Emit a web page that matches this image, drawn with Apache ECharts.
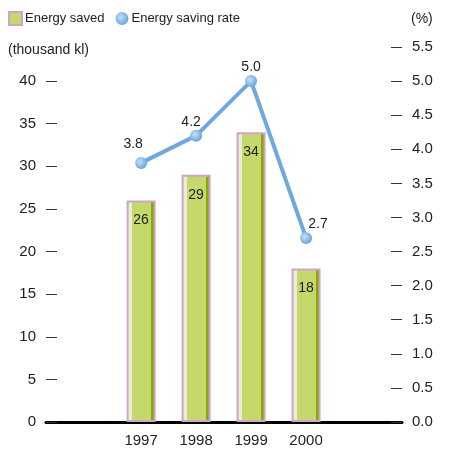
<!DOCTYPE html>
<html>
<head>
<meta charset="utf-8">
<script src="https://cdn.jsdelivr.net/npm/echarts@6/dist/echarts.min.js"></script>
<style>
  html, body { margin: 0; padding: 0; background: #fff; }
  #chart { width: 449px; height: 455px; }
</style>
</head>
<body>
<div id="chart"></div>
<script>
// Fiscal years shown on the horizontal axis
const years = [1997, 1998, 1999, 2000];
// Energy saved, thousand kl
const energySaved = [26, 29, 34, 18];
// Energy saving rate, %
const savingRate = [3.8, 4.2, 5.0, 2.7];
// Tick values of the two vertical axes
const leftTicks = [0, 5, 10, 15, 20, 25, 30, 35, 40];
const rightTicks = [0, 0.5, 1, 1.5, 2, 2.5, 3, 3.5, 4, 4.5, 5, 5.5];
// Nudges for the rate labels so they clear the line
const rateLabelOffsets = [[-8, 2], [-5, 8], [0, 7], [12, 7]];

const FONT = 'Liberation Sans';
const TEXT = '#222';

const chart = echarts.init(document.getElementById('chart'), null, { renderer: 'canvas' });

const barFill = new echarts.graphic.LinearGradient(0, 0, 1, 0, [
  { offset: 0, color: '#ebeed0' },
  { offset: 0.19, color: '#ebeed0' },
  { offset: 0.19, color: '#c5d86c' },
  { offset: 0.85, color: '#c5d86c' },
  { offset: 0.85, color: '#8aa800' },
  { offset: 1, color: '#8aa800' }
]);

const dotFill = new echarts.graphic.RadialGradient(0.4, 0.4, 0.6, [
  { offset: 0, color: '#c6e0f8' },
  { offset: 1, color: '#6aa6dc' }
]);

chart.setOption({
  animation: false,
  textStyle: { fontFamily: FONT },
  grid: { left: 46, right: 47, top: 47, bottom: 33, containLabel: false },
  legend: {
    left: 8, top: 11, padding: 0,
    itemWidth: 13, itemHeight: 13, itemGap: 11,
    textStyle: { fontFamily: FONT, fontSize: 13, color: TEXT, padding: [0, 0, 0, -2] },
    data: [
      { name: 'Energy saved', icon: 'rect',
        itemStyle: { color: '#c5d86c', borderColor: '#cfa3cf', borderWidth: 2 } },
      { name: 'Energy saving rate', icon: 'circle',
        itemStyle: { color: dotFill, borderWidth: 0 } }
    ]
  },
  graphic: [
    { type: 'text', left: 8, top: 43,
      style: { text: '(thousand kl)', fontFamily: FONT, fontSize: 14, fill: TEXT } },
    { type: 'text', left: 411, top: 12,
      style: { text: '(%)', fontFamily: FONT, fontSize: 14, fill: TEXT } }
  ],
  xAxis: {
    type: 'value',
    min: 1995.27, max: 2001.745,
    splitLine: { show: false },
    axisLine: { show: true, onZero: false, lineStyle: { color: '#000', width: 3 } },
    axisTick: { show: false },
    axisLabel: {
      customValues: years,
      margin: 11,
      fontFamily: FONT, fontSize: 15, color: TEXT,
      formatter: v => String(v)
    }
  },
  yAxis: [
    {
      type: 'value', min: 0, max: 44,
      splitLine: { show: false },
      axisLine: { show: false },
      axisTick: { show: true, inside: true, length: 11, customValues: leftTicks,
        lineStyle: { color: '#333', width: 1 } },
      axisLabel: { customValues: leftTicks, margin: 10, fontFamily: FONT, fontSize: 15, color: TEXT }
    },
    {
      type: 'value', min: 0, max: 5.5, position: 'right',
      splitLine: { show: false },
      axisLine: { show: false },
      axisTick: { show: true, inside: true, length: 11, customValues: rightTicks,
        lineStyle: { color: '#333', width: 1 } },
      axisLabel: { customValues: rightTicks, margin: 10, fontFamily: FONT, fontSize: 15, color: TEXT,
        formatter: v => v.toFixed(1) }
    }
  ],
  series: [
    {
      name: 'Energy saved',
      type: 'bar',
      yAxisIndex: 0,
      barWidth: 29,
      data: years.map((y, i) => [y, energySaved[i]]),
      itemStyle: { color: barFill, borderColor: '#cfa3cf', borderWidth: 2 },
      label: {
        show: true, position: 'insideTop', distance: 13,
        fontFamily: FONT, fontSize: 14, color: TEXT,
        formatter: p => String(p.value[1])
      },
      z: 2
    },
    {
      name: 'Energy saving rate',
      type: 'line',
      yAxisIndex: 1,
      data: years.map((y, i) => ({
        value: [y, savingRate[i]],
        label: { offset: rateLabelOffsets[i] }
      })),
      lineStyle: { color: '#6fa8dc', width: 4 },
      itemStyle: { color: dotFill, borderWidth: 0 },
      symbol: 'circle', symbolSize: 12,
      label: {
        show: true, position: 'top', distance: 8,
        fontFamily: FONT, fontSize: 14, color: TEXT,
        formatter: p => p.value[1].toFixed(1)
      },
      z: 3
    }
  ]
});
</script>
</body>
</html>
